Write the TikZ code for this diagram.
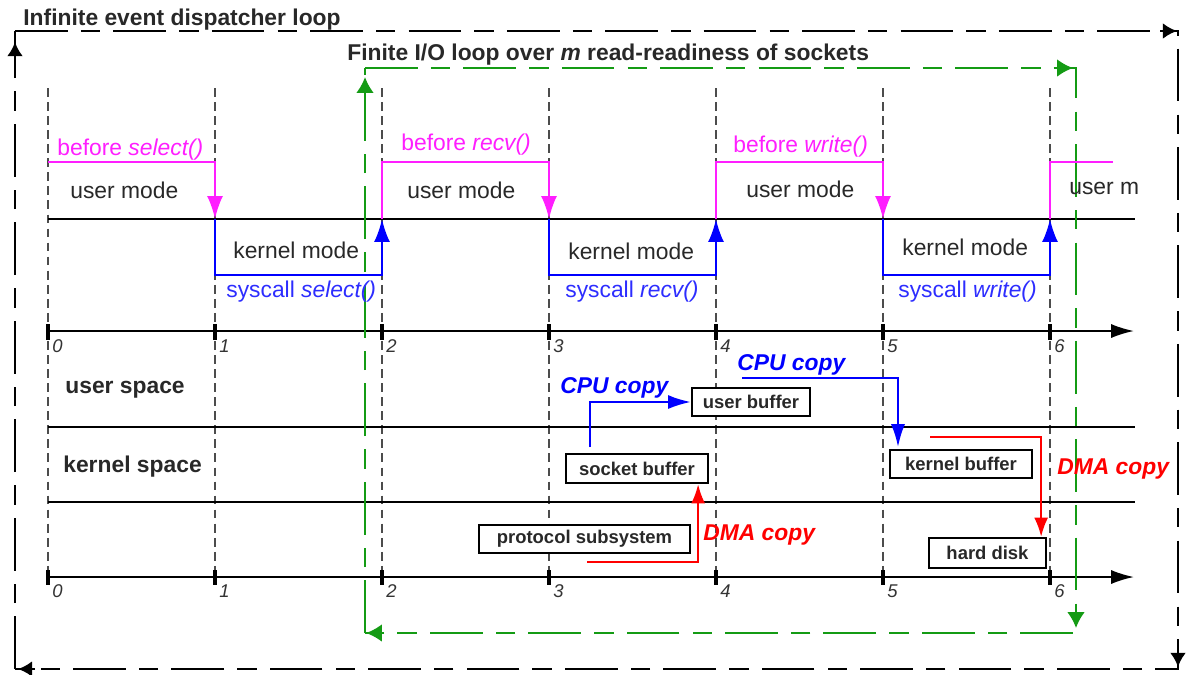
\documentclass[tikz,border=0pt]{standalone}
\usepackage{fontspec}
\setmainfont{Liberation Sans}
\usetikzlibrary{arrows.meta,calc}
\definecolor{pk}{RGB}{255,30,255}
\definecolor{bl}{RGB}{0,0,255}
\definecolor{bltx}{RGB}{45,45,255}
\definecolor{gr}{RGB}{20,155,20}
\definecolor{rd}{RGB}{255,0,0}
\definecolor{tx}{RGB}{40,40,40}
\begin{document}
\begin{tikzpicture}[x=0.02cm,y=-0.02cm,
  every node/.style={inner sep=0pt, font=\fontsize{13}{15}\selectfont, text=tx},
  lbl/.style={anchor=base west},
  blbl/.style={anchor=base west, font=\fontsize{13}{15}\selectfont\bfseries},
  ticklbl/.style={anchor=base west, font=\fontsize{10.5}{12}\selectfont\itshape, text=black!80},
  bufbox/.style={draw=black, line width=1.3pt, fill=white, font=\fontsize{10.5}{12}\selectfont\bfseries},
  outerloop/.style={draw=black, line width=1.5pt, dash pattern=on 30pt off 7.5pt on 11pt off 7.5pt},
  greenloop/.style={draw=gr, line width=1.2pt, dash pattern=on 30pt off 7.5pt on 11pt off 7.5pt},
  oseg/.style={draw=black, line width=1.5pt},
  gseg/.style={draw=gr, line width=1.2pt},
  otip/.style={draw=black, line width=1.5pt, -{Latex[length=8pt,width=9pt]}},
  gtip/.style={draw=gr, line width=1.2pt, -{Latex[length=9pt,width=10pt]}},
  vline/.style={draw=black!70, line width=0.8pt, dash pattern=on 5pt off 3pt},
  hline/.style={draw=black, line width=1.1pt},
  axis/.style={draw=black, line width=1.1pt, -{Latex[length=13pt,width=8pt]}},
  tick/.style={draw=black, line width=2.3pt},
  pkline/.style={draw=pk, line width=1.2pt, -{Latex[length=13pt,width=9pt]}},
  blline/.style={draw=bl, line width=1.2pt, -{Latex[length=13pt,width=9pt]}},
  cpu/.style={draw=bl, line width=1.3pt, -{Latex[length=13pt,width=8pt]}},
  dma/.style={draw=rd, line width=1.3pt, -{Latex[length=11pt,width=8pt]}},
]
\useasboundingbox (0,0) rectangle (1191,674);

% vertical time lines
\foreach \i in {0,...,6} {
  \pgfmathsetmacro{\xx}{48+167*\i}
  \draw[vline] (\xx,88) -- (\xx,578);
}

% horizontal lines
\draw[hline] (48,219) -- (1135,219);
\draw[hline] (48,427) -- (1135,427);
\draw[hline] (48,502) -- (1135,502);
\draw[axis] (48,331) -- (1134,331);
\draw[axis] (48,577) -- (1134,577);
\foreach \i in {0,...,6} {
  \pgfmathsetmacro{\xx}{48+167*\i}
  \draw[tick] (\xx,324) -- (\xx,340);
  \draw[tick] (\xx,570) -- (\xx,585);
  \node[ticklbl] (tu\i) at (\xx+4,352) {\i};
  \node[ticklbl] (tl\i) at (\xx+4,597) {\i};
}

% outer loop
\coordinate (oBL) at (15,669);
\coordinate (oTL) at (15,31);
\coordinate (oTR) at (1178,31);
\coordinate (oBR) at (1178,669);
\draw[outerloop] (oTL) -- (oTR) -- (oBR) -- (oBL);
\begin{scope}
  \clip (0,31) rectangle (40,669);
  \foreach \k in {0,...,6} {
    \pgfmathsetmacro{\ya}{669-98.5*\k}
    \draw[oseg] (15,\ya) -- (15,\ya-53);
    \draw[oseg] (15,\ya-66) -- (15,\ya-85.5);
  }
\end{scope}
\draw[otip] (15,58) -- (15,42);
\draw[otip] (1160,31) -- (1177,31);
\draw[otip] (1178,650) -- (1178,667);
\draw[otip] (35,669) -- (18,669);
\node[anchor=base west, font=\fontsize{13}{15}\selectfont\bfseries] (t1) at (23,25) {Infinite event dispatcher loop};

% green loop
\coordinate (gBL) at (365,633);
\coordinate (gTL) at (365,68);
\coordinate (gTR) at (1076,68);
\coordinate (gBR) at (1076,633);
\draw[greenloop] (gTL) -- (gTR) -- (gBR) -- (gBL);
\begin{scope}
  \clip (350,68) rectangle (380,633);
  \foreach \k in {0,...,5} {
    \pgfmathsetmacro{\ya}{633-98.5*\k}
    \draw[gseg] (365,\ya) -- (365,\ya-53);
    \draw[gseg] (365,\ya-66) -- (365,\ya-85.5);
  }
\end{scope}
\draw[gtip] (365,93) -- (365,77);
\draw[gtip] (1055,68) -- (1073,68);
\draw[gtip] (1076,611) -- (1076,628);
\draw[gtip] (383,633) -- (366,633);
\node[anchor=base west, font=\fontsize{13}{15}\selectfont\bfseries] (t2) at (347,60) {Finite I/O loop over \textit{m} read-readiness of sockets};

% mode waveform
\draw[pkline] (48,162) -- (215,162) -- (215,219);
\draw[blline] (215,219) -- (215,275) -- (382,275) -- (382,219);
\draw[pkline] (382,219) -- (382,162) -- (549,162) -- (549,219);
\draw[blline] (549,219) -- (549,275) -- (716,275) -- (716,219);
\draw[pkline] (716,219) -- (716,162) -- (883,162) -- (883,219);
\draw[blline] (883,219) -- (883,275) -- (1050,275) -- (1050,219);
\draw[draw=pk, line width=1.2pt] (1050,219) -- (1050,162) -- (1113,162);

\node[lbl, text=pk] (bs) at (57,155) {before \textit{select()}};
\node[lbl, text=pk] (br) at (401,150) {before \textit{recv()}};
\node[lbl, text=pk] (bw) at (733,152) {before \textit{write()}};
\node[lbl] (um1) at (70,198) {user mode};
\node[lbl] (um2) at (407,198) {user mode};
\node[lbl] (um3) at (746,197) {user mode};
\node[lbl] (um4) at (1069,194) {user m};
\node[lbl] (km1) at (233,258) {kernel mode};
\node[lbl] (km2) at (568,259) {kernel mode};
\node[lbl] (km3) at (902,255) {kernel mode};
\node[lbl, text=bltx] (ss) at (226,297) {syscall \textit{select()}};
\node[lbl, text=bltx] (sr) at (565,297) {syscall \textit{recv()}};
\node[lbl, text=bltx] (sw) at (898,297) {syscall \textit{write()}};

% spaces
\node[blbl] (us) at (65,393) {user space};
\node[blbl] (ks) at (63,472) {kernel space};

% buffers
\node[bufbox, minimum width=2.36cm, minimum height=0.56cm] (ub) at (751,402) {user buffer};
\node[bufbox, minimum width=2.84cm, minimum height=0.58cm] (sb) at (637,468.5) {socket buffer};
\node[bufbox, minimum width=4.22cm, minimum height=0.56cm] (ps) at (584.5,539) {protocol subsystem};
\node[bufbox, minimum width=2.84cm, minimum height=0.56cm] (kb) at (961,464) {kernel buffer};
\node[bufbox, minimum width=2.34cm, minimum height=0.6cm] (hd) at (987.5,553) {hard disk};

% copies
\coordinate (c1s) at (590,447);
\draw[cpu] (c1s) |- (ub.west);
\coordinate (c2s) at (742,378);
\coordinate (c2e) at (898,447);
\draw[cpu] (c2s) -| (c2e);
\coordinate (d1s) at (587,562);
\draw[dma] (d1s) -| ($(sb.south east)+(-11,0)$);
\coordinate (d2s) at (930,437);
\draw[dma] (d2s) -| ($(hd.north east)+(-6,0)$);

\node[anchor=base west, font=\fontsize{13}{15}\selectfont\bfseries\itshape, text=bl] (cc1) at (560,393) {CPU copy};
\node[anchor=base west, font=\fontsize{13}{15}\selectfont\bfseries\itshape, text=bl] (cc2) at (737,370) {CPU copy};
\node[anchor=base west, font=\fontsize{13}{15}\selectfont\bfseries\itshape, text=rd] (dc1) at (703,540) {DMA copy};
\node[anchor=base west, font=\fontsize{13}{15}\selectfont\bfseries\itshape, text=rd] (dc2) at (1057,474) {DMA copy};
\end{tikzpicture}
\end{document}
